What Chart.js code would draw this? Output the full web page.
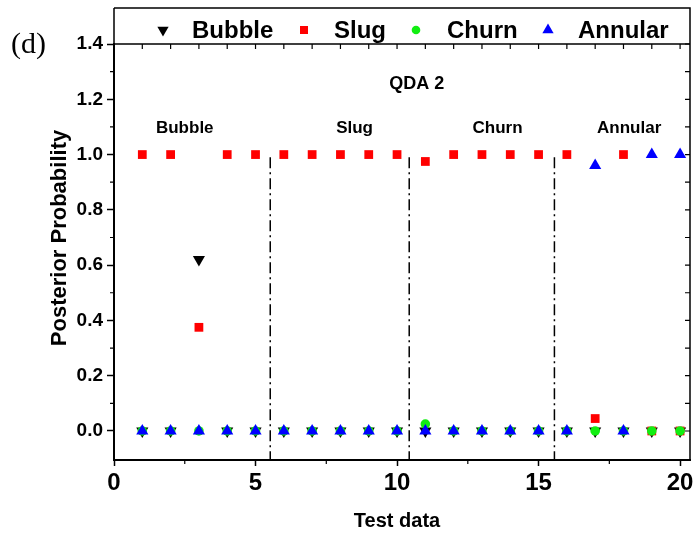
<!DOCTYPE html>
<html>
<head>
<meta charset="utf-8">
<script src="https://cdn.jsdelivr.net/npm/chart.js@4.4.1/dist/chart.umd.min.js"></script>
<style>
  html, body { margin: 0; padding: 0; background: #fff; }
  #wrap { width: 697px; height: 533px; }
</style>
</head>
<body>
<div id="wrap"><canvas id="qdaChart" width="697" height="533"></canvas></div>
<script>
// test samples 1..20 and the posterior probability of each class
const testIdx = [1, 2, 3, 4, 5, 6, 7, 8, 9, 10, 11, 12, 13, 14, 15, 16, 17, 18, 19, 20];
const bubble  = [0, 0, 0.62, 0, 0, 0, 0, 0, 0, 0, 0, 0, 0, 0, 0, 0, 0, 0, 0, 0];
const slug    = [1, 1, 0.375, 1, 1, 1, 1, 1, 1, 1, 0.975, 1, 1, 1, 1, 1, 0.045, 1, 0, 0];
const churn   = [0, 0, 0, 0, 0, 0, 0, 0, 0, 0, 0.025, 0, 0, 0, 0, 0, 0, 0, 0, 0];
const annular = [0, 0, 0, 0, 0, 0, 0, 0, 0, 0, 0, 0, 0, 0, 0, 0, 0.96, 0, 1, 1];

// flow-regime boundaries and the region names written above them
const boundaries = [5.52, 10.43, 15.56];
const regionNames = ['Bubble', 'Slug', 'Churn', 'Annular'];
const regionX = [2.5, 8.5, 13.55, 18.2];
const regionY = 1.095;
const panelTitle = 'QDA 2';

const xTicks = [0, 5, 10, 15, 20];
const yTicks = [0, 0.2, 0.4, 0.6, 0.8, 1.0, 1.2, 1.4];

const X_MIN = 0, X_MAX = 20.35, Y_MIN = -0.105, Y_MAX = 1.4;
const FONT = "'Liberation Sans', Arial, sans-serif";
const NARROW = "'Liberation Sans Narrow', 'Arial Narrow', 'Liberation Sans', sans-serif";

function pts(vals) {
  return testIdx.map((x, i) => ({ x: x, y: vals[i] }));
}

const series = [
  { label: 'Bubble', data: bubble, color: '#000000', style: 'triangle', rot: 180, r: 7, order: 4 },
  { label: 'Slug', data: slug, color: '#ff0000', style: 'rect', rot: 0, r: 6.2, order: 3 },
  { label: 'Churn', data: churn, color: '#11ee11', style: 'circle', rot: 0, r: 4.8, order: 2 },
  { label: 'Annular', data: annular, color: '#0000ff', style: 'triangle', rot: 0, r: 7, order: 1 }
];

const datasets = series.map(s => ({
  type: 'scatter',
  label: s.label,
  data: pts(s.data),
  pointStyle: s.style,
  rotation: s.rot,
  pointRadius: s.r,
  pointBackgroundColor: s.color,
  pointBorderColor: s.color,
  pointBorderWidth: 0,
  order: s.order
}));

boundaries.forEach(b => {
  datasets.push({
    type: 'line',
    label: '',
    data: [{ x: b, y: 0.99 }, { x: b, y: Y_MIN }],
    borderColor: '#000',
    borderWidth: 1.5,
    borderDash: [11, 4, 2, 4],
    pointRadius: 0,
    order: 10
  });
});

function drawMarker(ctx, style, rot, x, y, r, color) {
  ctx.save();
  ctx.fillStyle = color;
  ctx.strokeStyle = color;
  if (Chart.helpers && Chart.helpers.drawPoint) {
    Chart.helpers.drawPoint(ctx, { pointStyle: style, rotation: rot, radius: r, borderWidth: 0 }, x, y);
  } else {
    ctx.beginPath();
    ctx.arc(x, y, r, 0, Math.PI * 2);
    ctx.fill();
  }
  ctx.restore();
}

const frameAndText = {
  id: 'frameAndText',
  afterDatasetsDraw(chart) {
    const ctx = chart.ctx;
    const a = chart.chartArea;
    const xs = chart.scales.x, ys = chart.scales.y;
    ctx.save();
    ctx.strokeStyle = '#000';
    ctx.lineWidth = 1.5;
    // box round plot + legend band
    ctx.beginPath();
    ctx.moveTo(a.left, 8);
    ctx.lineTo(a.right, 8);
    ctx.lineTo(a.right, a.bottom);
    ctx.moveTo(a.left, 8);
    ctx.lineTo(a.left, a.top);
    ctx.moveTo(a.left, a.top);
    ctx.lineTo(a.right, a.top);
    ctx.stroke();

    ctx.lineWidth = 1.2;
    ctx.beginPath();
    // top inner ticks
    for (let v = 1; v <= 20; v++) {
      const px = xs.getPixelForValue(v);
      ctx.moveTo(px, a.top);
      ctx.lineTo(px, a.top + 5);
    }
    // right inner ticks
    for (let k = 0; k <= 14; k++) {
      const py = ys.getPixelForValue(k / 10);
      ctx.moveTo(a.right, py);
      ctx.lineTo(a.right - 5, py);
    }
    // minor outer ticks
    for (let k = 1; k <= 13; k += 2) {
      const py = ys.getPixelForValue(k / 10);
      ctx.moveTo(a.left, py);
      ctx.lineTo(a.left - 4, py);
    }
    for (let v = 2.5; v < 20; v += 5) {
      const px = xs.getPixelForValue(v);
      ctx.moveTo(px, a.bottom);
      ctx.lineTo(px, a.bottom + 4);
    }
    ctx.stroke();

    // legend in the top band
    const legend = [
      { text: 'Bubble', s: series[0], mx: 163, tx: 192 },
      { text: 'Slug', s: series[1], mx: 304, tx: 334 },
      { text: 'Churn', s: series[2], mx: 416, tx: 447 },
      { text: 'Annular', s: series[3], mx: 548, tx: 578 }
    ];
    ctx.font = 'bold 24px ' + FONT;
    ctx.fillStyle = '#000';
    ctx.textAlign = 'left';
    ctx.textBaseline = 'middle';
    legend.forEach(it => {
      drawMarker(ctx, it.s.style, it.s.rot, it.mx, 30, it.s.r - 0.5, it.s.color);
      ctx.fillStyle = '#000';
      ctx.fillText(it.text, it.tx, 31);
    });

    // region names and panel title
    ctx.textAlign = 'center';
    ctx.font = 'bold 17px ' + FONT;
    regionNames.forEach((n, i) => {
      ctx.fillText(n, xs.getPixelForValue(regionX[i]), ys.getPixelForValue(regionY));
    });
    ctx.font = 'bold 18px ' + FONT;
    ctx.fillText(panelTitle, xs.getPixelForValue(10.7), ys.getPixelForValue(1.255));

    // axis titles
    ctx.font = 'bold 20px ' + FONT;
    ctx.fillText('Test data', 397, 521);
    ctx.save();
    ctx.translate(60, 238);
    ctx.rotate(-Math.PI / 2);
    ctx.font = 'bold 22px ' + FONT;
    ctx.fillText('Posterior Probability', 0, 0);
    ctx.restore();

    // panel letter
    ctx.font = "30px 'Liberation Serif', 'Times New Roman', serif";
    ctx.textAlign = 'left';
    ctx.fillText('(d)', 11, 45);
    ctx.restore();
  }
};

new Chart(document.getElementById('qdaChart'), {
  type: 'scatter',
  data: { datasets: datasets },
  options: {
    responsive: false,
    animation: false,
    devicePixelRatio: 1,
    layout: { padding: { top: 44, right: 5, left: 0, bottom: 0 } },
    plugins: { legend: { display: false }, tooltip: { enabled: false } },
    scales: {
      x: {
        type: 'linear',
        min: X_MIN,
        max: X_MAX,
        afterFit(scale) { scale.height = 73; },
        afterBuildTicks(scale) { scale.ticks = xTicks.map(v => ({ value: v })); },
        grid: { drawOnChartArea: false, tickLength: 6, tickColor: '#000', tickWidth: 1.5 },
        border: { display: true, color: '#000', width: 2 },
        ticks: { color: '#000', padding: 3, font: { family: NARROW, size: 24, weight: 'bold' }, maxRotation: 0 }
      },
      y: {
        type: 'linear',
        min: Y_MIN,
        max: Y_MAX,
        afterFit(scale) { scale.width = 114; },
        afterBuildTicks(scale) { scale.ticks = yTicks.map(v => ({ value: v })); },
        grid: { drawOnChartArea: false, tickLength: 7, tickColor: '#000', tickWidth: 1.5 },
        border: { display: true, color: '#000', width: 2 },
        ticks: {
          color: '#000', padding: 4,
          font: { family: FONT, size: 19, weight: 'bold' },
          callback: v => v.toFixed(1)
        }
      }
    }
  },
  plugins: [frameAndText]
});
</script>
</body>
</html>
